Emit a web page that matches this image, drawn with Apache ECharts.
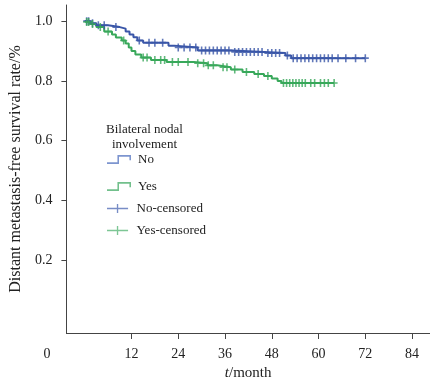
<!DOCTYPE html>
<html><head><meta charset="utf-8">
<script src="https://cdn.jsdelivr.net/npm/echarts@6/dist/echarts.min.js"></script>
<style>html,body{margin:0;padding:0;background:#fff}#c{width:430px;height:387px}</style>
</head><body><div id="c"></div>
<script>
// Kaplan-Meier step curves (month, survival)
const noTimes = [0, 1.5, 3, 6, 9, 10.5, 11.5, 12.5, 13.5, 15, 21.5, 23, 29, 38, 46, 51.5, 53, 72];
const noSurv  = [1.0, 0.993, 0.986, 0.98, 0.975, 0.965, 0.955, 0.946, 0.935, 0.928, 0.918, 0.912, 0.902, 0.897, 0.893, 0.885, 0.876, 0.876];
const yesTimes = [0, 0.5, 1.5, 3, 5, 7, 8, 9.5, 10.5, 11.3, 12, 13, 14.5, 17, 21, 28, 31.5, 34, 37.5, 40.5, 43.5, 46, 48, 49.5, 50.5, 64];
const yesSurv  = [1.0, 0.997, 0.99, 0.98, 0.965, 0.955, 0.945, 0.935, 0.925, 0.912, 0.9, 0.888, 0.878, 0.87, 0.863, 0.859, 0.852, 0.846, 0.838, 0.83, 0.823, 0.816, 0.808, 0.8, 0.793, 0.793];
// censored observations
const noCensTimes = [0.5, 1, 2, 3.5, 5, 8, 14, 16.5, 18, 20, 24, 25.5, 27, 28.5, 30, 31, 32, 33, 34, 35, 36, 37, 38.5, 39.5, 40.5, 41.5, 42.5, 43.5, 44.5, 45.5, 47, 48, 49, 50, 52, 53.5, 54.5, 55.5, 56.5, 57.5, 58.5, 59.5, 60.5, 61.5, 62.5, 63.5, 65, 67, 69.5, 72];
const noCensSurv  = [1.0, 1.0, 0.993, 0.986, 0.986, 0.98, 0.935, 0.928, 0.928, 0.928, 0.912, 0.912, 0.912, 0.912, 0.902, 0.902, 0.902, 0.902, 0.902, 0.902, 0.902, 0.902, 0.897, 0.897, 0.897, 0.897, 0.897, 0.897, 0.897, 0.897, 0.893, 0.893, 0.893, 0.893, 0.885, 0.876, 0.876, 0.876, 0.876, 0.876, 0.876, 0.876, 0.876, 0.876, 0.876, 0.876, 0.876, 0.876, 0.876, 0.876];
const yesCensTimes = [0.5, 1, 2, 4, 6, 10, 15, 16, 18, 19.5, 20.5, 22.5, 24, 26.5, 29, 30.5, 31.7, 33, 35.5, 36.5, 38.5, 41.5, 44.5, 47, 51, 51.8, 52.6, 53.4, 54.2, 55, 55.8, 56.6, 58, 59, 60.5, 61.5, 62.5, 64];
const yesCensSurv  = [0.997, 0.997, 0.99, 0.98, 0.965, 0.935, 0.878, 0.878, 0.87, 0.87, 0.87, 0.863, 0.863, 0.863, 0.859, 0.859, 0.852, 0.852, 0.846, 0.846, 0.838, 0.83, 0.823, 0.816, 0.793, 0.793, 0.793, 0.793, 0.793, 0.793, 0.793, 0.793, 0.793, 0.793, 0.793, 0.793, 0.793, 0.793];
const xTicks = [12, 24, 36, 48, 60, 72, 84];
const yTicks = [0.2, 0.4, 0.6, 0.8, 1.0];
const seriesNames = ['No', 'Yes', 'No-censored', 'Yes-censored'];
const legendTitle = 'Bilateral nodal\ninvolvement';

const zip = (a, b) => a.map((v, i) => [v, b[i]]);
const BLUE = '#3a56a8', GREEN = '#38a85a';
const FONT = '"Liberation Serif", "Times New Roman", serif';
const plus = 'path://M3.1,0H4.9V3.6H8V5.4H4.9V9H3.1V5.4H0V3.6H3.1Z';
const stepIcon = 'path://M0,7H10V0H23V5H21.5V1.5H11.5V8.5H0Z';
const censIcon = 'path://M0,4H10.3V0H11.7V4H22V5.4H11.7V9.4H10.3V5.4H0Z';

const legendY = [153, 180, 202, 224];
const legendColors = ['#7d95cf', '#72c08c', '#5670b8', '#5cb87a'];
const legendIcons = [stepIcon, stepIcon, censIcon, censIcon];

const chart = echarts.init(document.getElementById('c'), null, {renderer: 'canvas'});
chart.setOption({
  animation: false,
  backgroundColor: '#fff',
  textStyle: {fontFamily: FONT},
  grid: {left: 61, top: 5, right: 0, bottom: 54, containLabel: false},
  xAxis: {
    type: 'value', min: -4.7, max: 88.6,
    name: '{i|t}/month', nameLocation: 'middle', nameGap: 31,
    nameTextStyle: {fontFamily: FONT, fontSize: 15, color: '#222',
      rich: {i: {fontStyle: 'italic', fontFamily: FONT, fontSize: 15, color: '#222'}}},
    axisLine: {show: true, onZero: false, lineStyle: {color: '#444', width: 1}},
    axisTick: {show: true, length: 6, customValues: xTicks, lineStyle: {color: '#444'}},
    axisLabel: {customValues: xTicks, fontSize: 14, color: '#222', fontFamily: FONT, margin: 14},
    splitLine: {show: false}
  },
  yAxis: {
    type: 'value', min: -0.044, max: 1.054,
    name: 'Distant metastasis-free survival rate/%', nameLocation: 'middle', nameGap: 34,
    nameTextStyle: {fontFamily: FONT, fontSize: 16, color: '#222'},
    axisLine: {show: true, onZero: false, lineStyle: {color: '#444', width: 1}},
    axisTick: {show: true, length: 5, customValues: yTicks, lineStyle: {color: '#444'}},
    axisLabel: {customValues: yTicks, fontSize: 14, color: '#222', fontFamily: FONT, margin: 14,
      formatter: v => v.toFixed(1)},
    splitLine: {show: false}
  },
  legend: seriesNames.map((n, i) => ({
    data: [{name: n, icon: legendIcons[i], itemStyle: {color: legendColors[i]}}],
    left: 107, top: legendY[i], orient: 'vertical',
    itemWidth: 24, itemHeight: 9, itemGap: 0, padding: 0,
    textStyle: {fontFamily: FONT, fontSize: 13, color: '#222', padding: [0, 0, 0, 2]},
    selectedMode: false
  })),
  graphic: [
    {type: 'text', x: 144.5, y: 122,
      style: {text: legendTitle, fontFamily: FONT, fontSize: 13, fill: '#222', align: 'center', lineHeight: 15}},
    {type: 'text', x: 47, y: 354,
      style: {text: '0', fontFamily: FONT, fontSize: 14, fill: '#222', align: 'center', verticalAlign: 'middle'}}
  ],
  series: [
    {name: 'No', type: 'line', step: 'end', data: zip(noTimes, noSurv), showSymbol: false,
      lineStyle: {color: BLUE, width: 2}, itemStyle: {color: BLUE}, z: 3},
    {name: 'Yes', type: 'line', step: 'end', data: zip(yesTimes, yesSurv), showSymbol: false,
      lineStyle: {color: GREEN, width: 2}, itemStyle: {color: GREEN}, z: 2},
    {name: 'No-censored', type: 'scatter', data: zip(noCensTimes, noCensSurv), symbol: plus,
      symbolSize: [7, 8], itemStyle: {color: BLUE}, z: 4},
    {name: 'Yes-censored', type: 'scatter', data: zip(yesCensTimes, yesCensSurv), symbol: plus,
      symbolSize: [7, 8], itemStyle: {color: GREEN}, z: 4}
  ]
});
</script></body></html>
